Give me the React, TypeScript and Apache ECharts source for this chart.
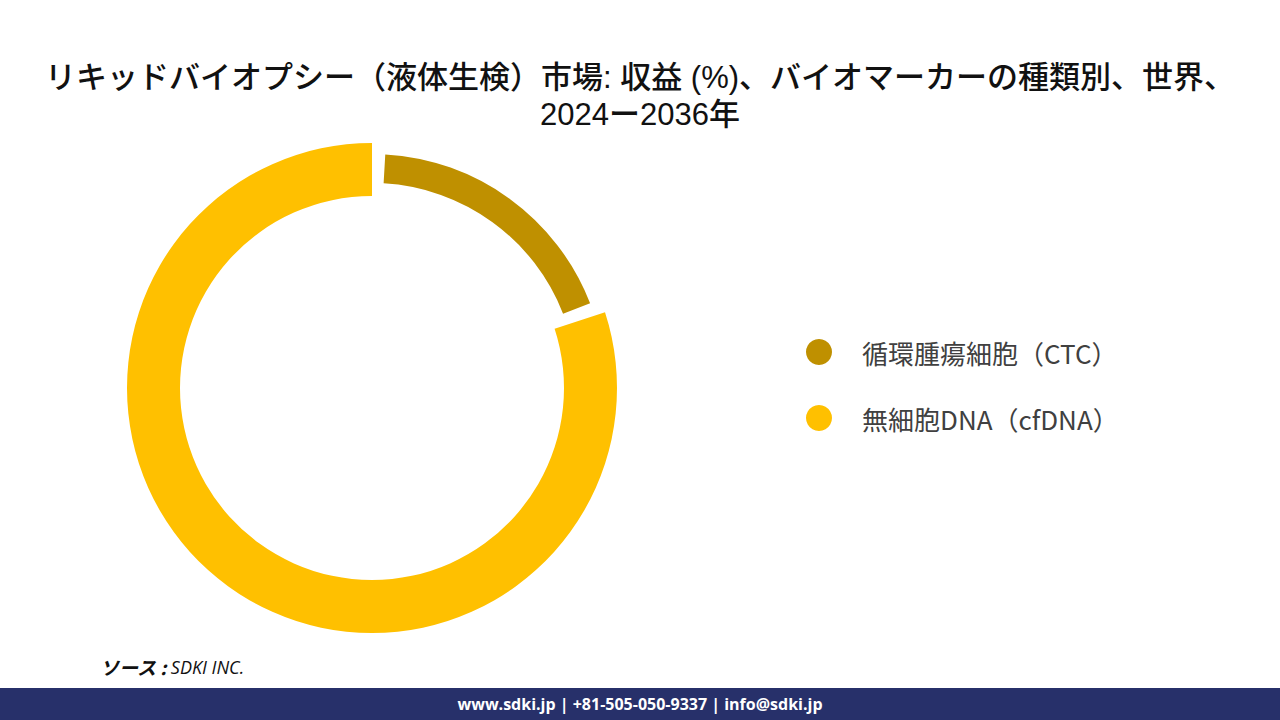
import React, { useEffect, useRef } from "react";
import * as echarts from "echarts";

const titleLines = [
  "リキッドバイオプシー（液体生検）市場: 収益 (%)、バイオマーカーの種類別、世界、",
  "2024ー2036年",
];
const categories = ["循環腫瘍細胞（CTC）", "無細胞DNA（cfDNA）"];
const shares = [20, 80];
const colors = ["#BF9000", "#FFC000"];
const sourceLabel = "ソース :";
const sourceName = "SDKI INC.";
const footerText = "www.sdki.jp | +81-505-050-9337 | info@sdki.jp";

export default function App() {
  const ref = useRef<HTMLDivElement>(null);
  useEffect(() => {
    if (!ref.current) return;
    const chart = echarts.init(ref.current, null, { renderer: "svg" });
    const hidden = { color: "rgba(0,0,0,0)" };
    const titleStyle = {
      fontFamily: "'Liberation Sans', 'Noto Sans CJK JP', sans-serif",
      fontSize: 31,
      fontWeight: 500,
      color: "#111111",
      lineHeight: 34,
    };
    chart.setOption({
      animation: false,
      backgroundColor: "#ffffff",
      title: [
        { text: titleLines[0], left: "center", top: 60, padding: 0, textStyle: titleStyle },
        { text: titleLines[1], left: "center", top: 97, padding: 0, textStyle: titleStyle },
      ],
      legend: {
        orient: "vertical",
        left: 806,
        top: 339,
        icon: "circle",
        itemWidth: 26,
        itemHeight: 26,
        itemGap: 40,
        selectedMode: false,
        padding: 0,
        data: categories.map((c, i) => ({ name: c, itemStyle: { color: colors[i] } })),
        textStyle: {
          fontFamily: "'Noto Sans CJK JP', sans-serif",
          fontSize: 26,
          color: "#404040",
          padding: [0, 0, 0, 25],
        },
      },
      series: [
        {
          type: "pie",
          center: [372, 388],
          radius: [192, 245],
          startAngle: 90,
          clockwise: true,
          silent: true,
          label: { show: false },
          labelLine: { show: false },
          data: [
            { name: "_hidden_ctc", value: shares[0], itemStyle: hidden },
            { name: categories[1], value: shares[1], itemStyle: { color: colors[1] } },
          ],
        },
        {
          type: "pie",
          center: [372, 388],
          radius: [205, 234],
          startAngle: 90,
          clockwise: true,
          padAngle: 6.5,
          silent: true,
          label: { show: false },
          labelLine: { show: false },
          data: [
            { name: categories[0], value: shares[0], itemStyle: { color: colors[0] } },
            { name: "_hidden_cf", value: shares[1], itemStyle: hidden },
          ],
        },
      ],
      graphic: [
        {
          type: "text",
          left: 100,
          top: 657,
          style: {
            text: `{a|${sourceLabel}} {b|${sourceName}}`,
            rich: {
              a: {
                fontFamily: "'Noto Sans CJK JP', sans-serif",
                fontSize: 19,
                fontWeight: "bold",
                fontStyle: "italic",
                fill: "#111111",
              },
              b: {
                fontFamily: "'Open Sans', sans-serif",
                fontSize: 18,
                fontStyle: "italic",
                fill: "#111111",
              },
            },
          },
        },
        {
          type: "rect",
          shape: { x: 0, y: 688, width: 1280, height: 32 },
          style: { fill: "#27306A" },
        },
        {
          type: "text",
          x: 640,
          y: 704,
          style: {
            text: footerText,
            align: "center",
            verticalAlign: "middle",
            fontFamily: "'Open Sans', sans-serif",
            fontSize: 16,
            fontWeight: "bold",
            fill: "#ffffff",
          },
        },
      ],
    });
    return () => chart.dispose();
  }, []);
  return (
    <div
      ref={ref}
      style={{ position: "absolute", left: 0, top: 0, width: 1280, height: 720 }}
    />
  );
}
